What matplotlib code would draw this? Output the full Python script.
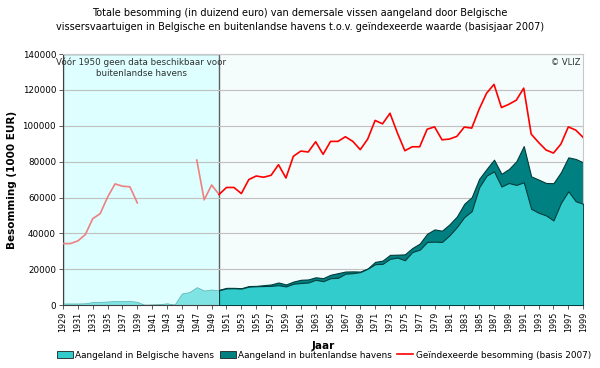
import numpy as np
import matplotlib.pyplot as plt
from matplotlib.patches import Patch, Rectangle
from matplotlib.lines import Line2D

years_pre = list(range(1929, 1951))
belg_pre = [900, 900, 900, 1000, 1700, 1800, 2000, 2300, 2300, 2300, 1800,
            0, 300, 500, 1000, 200, 6500, 7200, 10000, 8100, 8700, 8100]
index_pre = [34300, 34300, 35800, 39300, 48200, 51000, 60200, 67600, 66300, 66000, 57000,
             np.nan, np.nan, np.nan, np.nan, np.nan, np.nan, np.nan, 80900, 58700, 67000, 61700]

years = list(range(1950, 2000))
belg = [8300, 9300, 9400, 9200, 10300, 10500, 10600, 10700, 11100, 10400,
        11900, 12300, 12600, 14100, 13300, 15000, 15200, 17500, 17800, 18400,
        20300, 22800, 23000, 25800, 26500, 25000, 29600, 30900, 35200, 35400,
        35200, 38900, 43500, 49100, 52400, 65700, 72200, 74600, 66100, 68100,
        67000, 68500, 53700, 51500, 50000, 47200, 57000, 63500, 57900, 56500]
total = [8500, 9600, 9600, 9400, 10600, 10700, 11100, 11500, 12600, 11500,
         13100, 14100, 14300, 15500, 15000, 16900, 17800, 18700, 18800, 18700,
         20400, 24100, 24800, 28000, 28100, 28300, 31800, 34300, 39800, 42200,
         41500, 45000, 49400, 56500, 60200, 70400, 75900, 81100, 73200, 75900,
         80200, 88700, 71800, 70000, 68100, 68000, 74100, 82400, 81500, 79600]
index_post = [61700, 65600, 65600, 62200, 70000, 72000, 71300, 72400, 78300, 70900,
              83000, 85900, 85400, 91100, 84100, 91300, 91300, 93900, 91300, 86700,
              92600, 103000, 101100, 107000, 96000, 86100, 88300, 88300, 98100, 99400,
              92200, 92600, 94100, 99300, 98700, 109300, 118200, 123100, 110200, 112000,
              114300, 121000, 95400, 90700, 86500, 84800, 89800, 99400, 97600, 93500]

fig = plt.figure(figsize=(6, 3.68), dpi=100)
ax = fig.add_axes([0.105, 0.171, 0.867, 0.682])
ax.set_facecolor('#f5fcfc')
ax.set_xlim(1929, 1999)
ax.set_ylim(0, 140000)

ax.add_patch(Rectangle((1929, 0), 21, 140000, facecolor='#ddffff', edgecolor='#606060',
                       linewidth=1.0, zorder=0.5))
ax.yaxis.grid(True, color='#c0c0c0', linewidth=0.8, zorder=1)
ax.set_axisbelow(True)

ax.fill_between(years_pre, 0, belg_pre, color='#7fe3e3', edgecolor='#5ab0b0', linewidth=0.5, zorder=2)
ax.fill_between(years, 0, total, color='#008080', edgecolor='#003c3c', linewidth=0.8, zorder=2)
ax.fill_between(years, 0, belg, color='#33cccc', edgecolor='#003c3c', linewidth=0.8, zorder=3)
ax.plot(years_pre, index_pre, color='#f08080', linewidth=1.2, zorder=4)
ax.plot(years, index_post, color='#ff0000', linewidth=1.2, zorder=4)

ax.set_xticks(range(1929, 2000, 2))
ax.set_xticklabels([str(y) for y in range(1929, 2000, 2)], rotation=90, fontsize=5.8)
ax.set_yticks(range(0, 140001, 20000))
ax.set_yticklabels([str(v) for v in range(0, 140001, 20000)], fontsize=6.3)
ax.tick_params(length=3, width=0.6, color='#404040', pad=2)
for s in ['top', 'right']:
    ax.spines[s].set_color('#c8c8c8')
for s in ['left', 'bottom']:
    ax.spines[s].set_color('#404040')
    ax.spines[s].set_linewidth(0.8)

ax.set_ylabel('Besomming (1000 EUR)', fontsize=7.5, fontweight='bold', labelpad=4)
ax.set_xlabel('Jaar', fontsize=7.5, fontweight='bold', labelpad=6)

ax.text(1939.5, 138000, 'Vóór 1950 geen data beschikbaar voor\nbuitenlandse havens',
        ha='center', va='top', fontsize=6.3, color='#303030', linespacing=1.3)
ax.text(1998.6, 138000, '© VLIZ', ha='right', va='top', fontsize=6, color='#303030')

fig.text(0.5, 0.945, 'Totale besomming (in duizend euro) van demersale vissen aangeland door Belgische\n'
         'vissersvaartuigen in Belgische en buitenlandse havens t.o.v. geïndexeerde waarde (basisjaar 2007)',
         ha='center', va='center', fontsize=7, linespacing=1.45)

handles = [Patch(facecolor='#33cccc', edgecolor='#202020', linewidth=0.6),
           Patch(facecolor='#008080', edgecolor='#202020', linewidth=0.6),
           Line2D([], [], color='#ff0000', linewidth=1.2)]
labels = ['Aangeland in Belgische havens', 'Aangeland in buitenlandse havens',
          'Geïndexeerde besomming (basis 2007)']
fig.legend(handles, labels, loc='center', bbox_to_anchor=(0.54, 0.035), ncol=3, frameon=False,
           fontsize=6.4, handlelength=1.8, handleheight=0.9, columnspacing=0.6, handletextpad=0.3,
           borderaxespad=0)

fig.savefig('out.png', dpi=100)
